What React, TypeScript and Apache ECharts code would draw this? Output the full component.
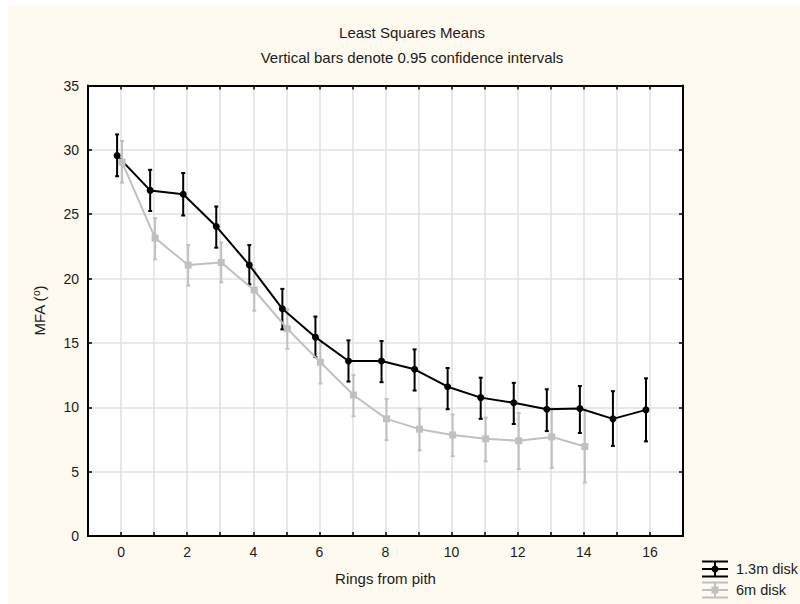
import React, { useEffect, useRef } from "react";
import * as echarts from "echarts";

const rings13 = [0, 1, 2, 3, 4, 5, 6, 7, 8, 9, 10, 11, 12, 13, 14, 15, 16];
const mean13 = [29.55, 26.85, 26.55, 24.05, 21.05, 17.65, 15.45, 13.6, 13.6, 12.95, 11.6, 10.75, 10.35, 9.85, 9.9, 9.1, 9.8];
const upper13 = [31.2, 28.45, 28.2, 25.6, 22.6, 19.2, 17.05, 15.2, 15.15, 14.5, 13.05, 12.3, 11.9, 11.4, 11.65, 11.25, 12.25];
const lower13 = [27.95, 25.25, 24.9, 22.4, 19.55, 16.05, 13.9, 12.0, 11.95, 11.3, 9.85, 9.1, 8.7, 8.15, 8.0, 7.0, 7.35];

const rings6 = [0, 1, 2, 3, 4, 5, 6, 7, 8, 9, 10, 11, 12, 13, 14];
const mean6 = [29.05, 23.15, 21.05, 21.25, 19.1, 16.1, 13.5, 10.95, 9.1, 8.3, 7.85, 7.55, 7.4, 7.7, 6.95];
const upper6 = [30.7, 24.7, 22.6, 22.8, 20.7, 17.6, 15.0, 12.5, 10.65, 9.9, 9.45, 9.2, 9.55, 9.9, 9.8];
const lower6 = [27.45, 21.5, 19.45, 19.7, 17.5, 14.55, 11.85, 9.3, 7.45, 6.65, 6.2, 5.8, 5.2, 5.3, 4.15];

const xTickLabels = ["0", "2", "4", "6", "8", "10", "12", "14", "16"];
const seriesNames = ["1.3m disk", "6m disk"];
const titleText = "Least Squares Means";
const subtitleText = "Vertical bars denote 0.95 confidence intervals";

const BLACK = "#000000";
const GRAY = "#c0c0c0";
const TEXT = "#1a1a1a";
const FONT = "Liberation Sans, Arial, sans-serif";
const OFF13 = -0.12;
const OFF6 = 0.03;

function errorBarSeries(name: string, rings: number[], lo: number[], hi: number[], off: number, color: string) {
  return {
    type: "custom",
    name,
    xAxisIndex: 0,
    yAxisIndex: 0,
    encode: { x: 0, y: [1, 2] },
    data: rings.map((r, i) => [r + off, lo[i], hi[i]]),
    renderItem: (params: any, api: any) => {
      const x = api.value(0);
      const top = api.coord([x, api.value(2)]);
      const bot = api.coord([x, api.value(1)]);
      const cap = 2;
      const style = { stroke: color, lineWidth: 2 };
      return {
        type: "group",
        children: [
          { type: "line", shape: { x1: top[0], y1: top[1], x2: bot[0], y2: bot[1] }, style },
          { type: "line", shape: { x1: top[0] - cap, y1: top[1], x2: top[0] + cap, y2: top[1] }, style },
          { type: "line", shape: { x1: bot[0] - cap, y1: bot[1], x2: bot[0] + cap, y2: bot[1] }, style },
        ],
      };
    },
    z: 3,
  };
}

function legendIcon(cx: number, cy: number, color: string, square: boolean) {
  const half = 13;
  const h = 7.5;
  const style = { stroke: color, lineWidth: 2 };
  const kids: any[] = [
    { type: "line", shape: { x1: cx - half, y1: cy - h, x2: cx + half, y2: cy - h }, style },
    { type: "line", shape: { x1: cx - half, y1: cy, x2: cx + half, y2: cy }, style },
    { type: "line", shape: { x1: cx - half, y1: cy + h, x2: cx + half, y2: cy + h }, style },
    { type: "line", shape: { x1: cx, y1: cy - h, x2: cx, y2: cy + h }, style },
  ];
  if (square) {
    kids.push({ type: "rect", shape: { x: cx - 3.5, y: cy - 3.5, width: 7, height: 7 }, style: { fill: color } });
  } else {
    kids.push({ type: "circle", shape: { cx, cy, r: 3.5 }, style: { fill: color } });
  }
  return { type: "group", children: kids };
}

export default function App() {
  const ref = useRef<HTMLDivElement>(null);
  useEffect(() => {
    if (!ref.current) return;
    const chart = echarts.init(ref.current, undefined, { renderer: "svg" });
    const axisLine = { show: true, onZero: false, lineStyle: { color: BLACK, width: 2 } };
    const axisTick = { show: true, inside: true, length: 4, lineStyle: { color: BLACK, width: 1.5 } };
    const splitLine = { show: true, lineStyle: { color: "#e0e0e0", width: 1.5 } };
    const tickStyle = { color: TEXT, fontSize: 14, fontFamily: FONT };
    const nameStyle = { color: TEXT, fontSize: 15, fontFamily: FONT };
    chart.setOption({
      animation: false,
      backgroundColor: "#fffaf0",
      grid: { left: 80, right: 117, top: 80.5, bottom: 68, show: true, backgroundColor: "#ffffff", borderWidth: 0 },
      xAxis: [
        {
          type: "value",
          min: -1,
          max: 17,
          interval: 1,
          position: "bottom",
          axisLine,
          axisTick,
          splitLine,
          axisLabel: {
            ...tickStyle,
            margin: 9,
            formatter: (v: number) => (xTickLabels.indexOf(String(v)) >= 0 ? String(v) : ""),
          },
          name: "Rings from pith",
          nameLocation: "middle",
          nameGap: 35,
          nameTextStyle: { ...nameStyle },
        },
        {
          type: "value",
          min: -1,
          max: 17,
          interval: 1,
          position: "top",
          axisLine,
          axisTick,
          splitLine: { show: false },
          axisLabel: { show: false },
        },
      ],
      yAxis: [
        {
          type: "value",
          min: 0,
          max: 35,
          interval: 5,
          position: "left",
          axisLine,
          axisTick,
          splitLine,
          axisLabel: { ...tickStyle, margin: 9 },
          name: "{n|MFA (}{s|o}{n|)}",
          nameLocation: "middle",
          nameRotate: 90,
          nameGap: 40,
          nameTextStyle: {
            rich: {
              n: { ...nameStyle },
              s: { ...nameStyle, fontSize: 10, verticalAlign: "top", padding: [0, 0, 7, 0] },
            },
          },
        },
        {
          type: "value",
          min: 0,
          max: 35,
          interval: 5,
          position: "right",
          axisLine,
          axisTick,
          splitLine: { show: false },
          axisLabel: { show: false },
        },
      ],
      series: [
        errorBarSeries(seriesNames[0] + " CI", rings13, lower13, upper13, OFF13, BLACK),
        {
          type: "line",
          name: seriesNames[0],
          xAxisIndex: 0,
          yAxisIndex: 0,
          data: rings13.map((r, i) => [r + OFF13, mean13[i]]),
          lineStyle: { color: BLACK, width: 2 },
          itemStyle: { color: BLACK },
          symbol: "circle",
          symbolSize: 7,
          z: 4,
        },
        errorBarSeries(seriesNames[1] + " CI", rings6, lower6, upper6, OFF6, GRAY),
        {
          type: "line",
          name: seriesNames[1],
          xAxisIndex: 0,
          yAxisIndex: 0,
          data: rings6.map((r, i) => [r + OFF6, mean6[i]]),
          lineStyle: { color: GRAY, width: 2 },
          itemStyle: { color: GRAY },
          symbol: "rect",
          symbolSize: 7,
          z: 4,
        },
      ],
      graphic: [
        { type: "text", x: 404, y: 27, style: { text: titleText, fill: TEXT, font: "15px " + FONT, align: "center", verticalAlign: "middle" } },
        { type: "text", x: 404, y: 52, style: { text: subtitleText, fill: TEXT, font: "15px " + FONT, align: "center", verticalAlign: "middle" } },
        legendIcon(707, 564, BLACK, false),
        legendIcon(707, 585, GRAY, true),
        { type: "text", x: 728, y: 564, style: { text: seriesNames[0], fill: TEXT, font: "14.5px " + FONT, verticalAlign: "middle" } },
        { type: "text", x: 728, y: 585, style: { text: seriesNames[1], fill: TEXT, font: "14.5px " + FONT, verticalAlign: "middle" } },
      ],
    });
    return () => chart.dispose();
  }, []);
  return <div ref={ref} style={{ position: "absolute", left: 8, top: 5, width: 792, height: 599 }} />;
}
